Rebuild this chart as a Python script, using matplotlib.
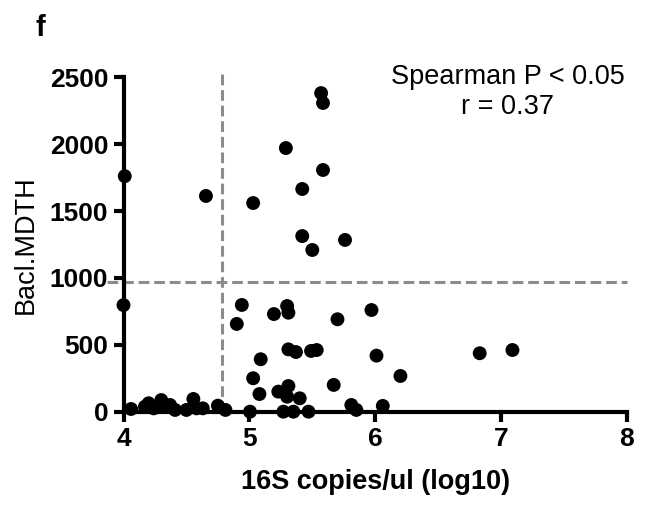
import matplotlib
matplotlib.use("Agg")
import matplotlib.pyplot as plt

plt.rcParams['font.family'] = ['Liberation Sans', 'DejaVu Sans']

# 16S copies/ul (log10)
x_vals = [4.01, 4.00, 4.655, 5.03, 5.29, 5.42, 5.57, 5.585, 5.585, 5.42,
          5.50, 5.76, 4.94, 4.90, 5.195, 5.30, 5.31, 5.70, 5.97, 5.09,
          5.31, 5.37, 5.49, 5.535, 6.01, 5.03, 5.08, 5.67, 6.20, 5.23,
          5.31, 5.30, 5.40, 5.005, 5.27, 5.35, 5.47, 5.81, 5.85, 6.06,
          6.83, 7.09, 4.06, 4.17, 4.20, 4.24, 4.30, 4.28, 4.37, 4.41,
          4.50, 4.555, 4.58, 4.63, 4.75, 4.81]
# Bacl.MDTH
y_vals = [1761, 797, 1613, 1560, 1971, 1665, 2382, 2308, 1807, 1313,
          1209, 1284, 798, 656, 730, 790, 740, 691, 760, 392,
          466, 446, 454, 461, 419, 250, 132, 200, 267, 150,
          192, 112, 100, 0, 0, 0, 0, 50, 13, 43,
          437, 461, 20, 37, 63, 25, 87, 37, 50, 13,
          13, 95, 25, 25, 45, 13]

x_ticks = [4, 5, 6, 7, 8]
y_ticks = [0, 500, 1000, 1500, 2000, 2500]
x_cut = 4.78
y_cut = 970

fig = plt.figure(figsize=(6.5, 5.09), dpi=100)
ax = fig.add_axes([0.19, 0.1912, 0.7746, 0.6569])

grey = '#8c8c8c'
ax.plot([x_cut, x_cut], [0, 2540], color=grey, lw=2.2, dashes=(3.5, 1.6),
        clip_on=False, zorder=1)
ax.plot([3.87, 8.0], [y_cut, y_cut], color=grey, lw=2.2, dashes=(3.5, 1.6),
        clip_on=False, zorder=1)

ax.scatter(x_vals, y_vals, s=100, color='black', edgecolors='none',
           clip_on=False, zorder=3)

ax.set_xlim(4, 8)
ax.set_ylim(0, 2500)
ax.set_xticks(x_ticks)
ax.set_yticks(y_ticks)
for s in ['top', 'right']:
    ax.spines[s].set_visible(False)
for s in ['left', 'bottom']:
    ax.spines[s].set_linewidth(3.0)
    ax.spines[s].set_zorder(2)
ax.tick_params(width=3.0, length=7, labelsize=19, pad=4)
for lab in ax.get_xticklabels() + ax.get_yticklabels():
    lab.set_fontweight('bold')

ax.set_xlabel('16S copies/ul (log10)', fontsize=19.5, fontweight='bold', labelpad=13)
ax.set_ylabel('Bacl.MDTH', fontsize=19.5, labelpad=8)

ax.text(7.05, 2500, 'Spearman P < 0.05', ha='center', va='center', fontsize=19.5)
ax.text(7.05, 2277, 'r = 0.37', ha='center', va='center', fontsize=19.5)

fig.text(40 / 650, 1 - 28 / 509, 'f', fontsize=21, fontweight='bold',
         ha='center', va='center')

fig.savefig('out.png', dpi=100)
